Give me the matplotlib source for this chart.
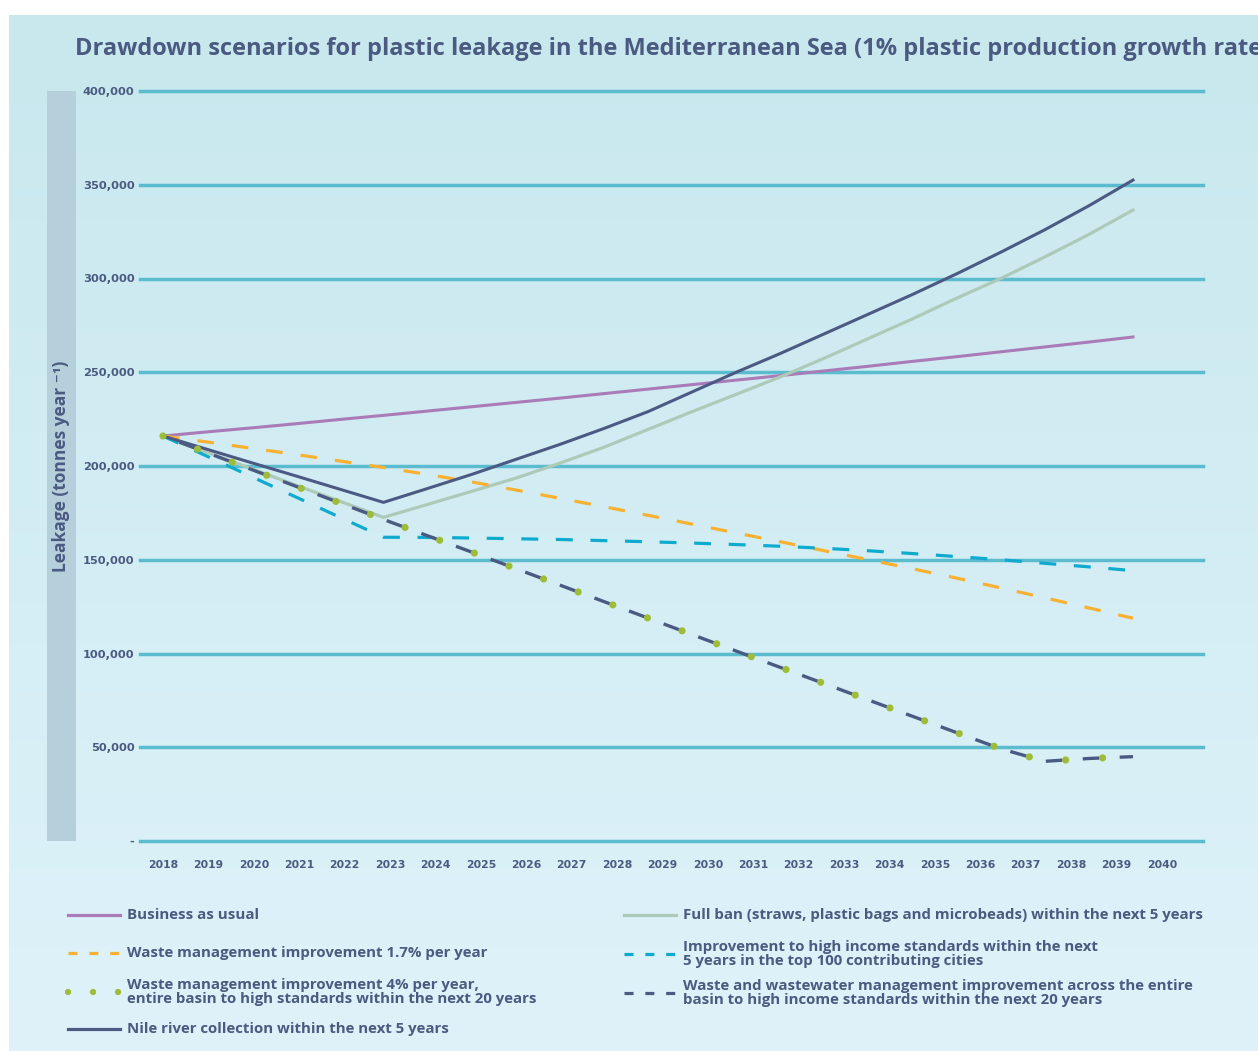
import matplotlib.pyplot as plt
import matplotlib.colors as mcolors
import numpy as np
from matplotlib.lines import Line2D
from matplotlib.patches import Rectangle

plt.rcParams['lines.scale_dashes'] = False

# data (thousand tonnes per year)
years = list(range(2018, 2041))
business = [216.0, 218.2, 220.3, 222.5, 224.8, 227.0, 229.3, 231.6, 233.9, 236.2, 238.6, 241.0,
            243.4, 245.8, 248.2, 250.7, 253.2, 255.8, 258.3, 260.9, 263.5, 266.1, 268.8]
full_ban = [216.0, 207.3, 198.6, 189.9, 181.3, 172.6, 179.5, 186.5, 193.5, 201.5, 210.0, 219.5,
            229.0, 238.2, 247.5, 257.5, 268.0, 278.5, 289.5, 300.0, 311.5, 323.5, 336.5]
nile = [216.0, 208.9, 201.8, 194.8, 187.7, 180.6, 188.0, 195.5, 203.5, 211.5, 220.0, 229.0,
        239.5, 250.0, 260.0, 270.5, 281.0, 291.5, 302.5, 314.0, 326.0, 338.8, 352.5]
wm_17 = [216.0, 212.8, 209.5, 206.2, 202.7, 199.2, 195.5, 191.5, 187.2, 182.8, 178.3, 173.7,
         169.0, 164.3, 159.6, 154.8, 150.0, 145.2, 140.2, 135.0, 129.7, 124.3, 118.8]
high_income = [216.0, 205.2, 194.4, 183.6, 172.8, 162.0, 161.9, 161.6, 161.2, 160.8, 160.2, 159.6,
               158.9, 158.1, 157.2, 156.1, 154.8, 153.3, 151.7, 150.0, 148.1, 146.2, 144.2]
wm_4 = [216.0, 207.1, 198.2, 189.3, 180.4, 171.5, 162.8, 154.1, 145.3, 136.5, 127.7, 118.9,
        110.1, 101.3, 92.6, 83.9, 75.2, 66.5, 57.8, 49.2, 42.5, 44.0, 45.0]
wastewater = [216.0, 207.1, 198.2, 189.3, 180.4, 171.5, 162.8, 154.1, 145.3, 136.5, 127.7, 118.9,
              110.1, 101.3, 92.6, 83.9, 75.2, 66.5, 57.8, 49.2, 42.5, 44.0, 45.0]
yticks = [0, 50000, 100000, 150000, 200000, 250000, 300000, 350000, 400000]

title = 'Drawdown scenarios for plastic leakage in the Mediterranean Sea (1% plastic production growth rate)'
ylabel = 'Leakage (tonnes year \u207b\u00b9)'

text_c = '#4a5a80'
grid_c = '#5bbccf'
c_bau = '#a97bb7'
c_ban = '#adcab9'
c_nile = '#4b5a82'
c_orange = '#f8b133'
c_cyan = '#0fabcf'
c_green = '#9dbd3a'
fam = ['Open Sans', 'DejaVu Sans']

W, H = 1258, 1051
fig = plt.figure(figsize=(W / 100, H / 100), dpi=100, facecolor='white')

# background panel with soft gradient
bg = fig.add_axes([9 / W, 0, 1 - 9 / W, 1 - 15 / H])
top = np.array(mcolors.to_rgb('#c8e8ee'))
bot = np.array(mcolors.to_rgb('#dff2fa'))
t = np.linspace(0, 1, 256)[:, None, None]
bg.imshow(top + (bot - top) * t, aspect='auto', extent=[0, 1, 0, 1])
bg.axis('off')

# grey band behind the y label
fig.add_artist(Rectangle((47 / W, 1 - 841 / H), 29 / W, 750 / H, transform=fig.transFigure,
                         facecolor='#b5cfdb', edgecolor='none'))

ax = fig.add_axes([140 / W, 1 - 841 / H, (1203 - 140) / W, 750 / H])
ax.set_facecolor('none')
x = np.arange(len(years))

for v in yticks:
    ax.axhline(v, color=grid_c, lw=2.5, clip_on=False, zorder=1)

k = 1000
ax.plot(x, np.array(business) * k, color=c_bau, lw=2.2, zorder=3)
ax.plot(x, np.array(full_ban) * k, color=c_ban, lw=2.3, zorder=3)
ax.plot(x, np.array(nile) * k, color=c_nile, lw=2.2, zorder=4)
ax.plot(x, np.array(wm_17) * k, color=c_orange, lw=2.3, ls=(0, (12, 13)), zorder=3)
ax.plot(x, np.array(high_income) * k, color=c_cyan, lw=2.3, ls=(0, (12.2, 12.7)), zorder=3)
ax.plot(x, np.array(wastewater) * k, color=c_nile, lw=2.4, ls=(14, (12, 14.6)), zorder=4)
ax.plot(x, np.array(wm_4) * k, color=c_green, lw=5.2, ls=(0, (0.01, 26.6)),
        dash_capstyle='round', zorder=5)

ax.set_xlim(-23 / 44.09, 22 + 70 / 44.09)
ax.set_ylim(0, 400000)
step = 45.4 / 44.09
ax.set_xticks(x * step)
ax.set_xticklabels([str(y) for y in years])
ax.set_yticks(yticks)
ax.set_yticklabels(['-' if v == 0 else f'{v:,}' for v in yticks])
ax.tick_params(length=0, labelcolor=text_c)
ax.tick_params(axis='x', pad=14)
ax.tick_params(axis='y', pad=4)
for lab in ax.get_xticklabels():
    lab.set_fontweight('bold')
    lab.set_fontsize(7.8)
for lab in ax.get_yticklabels():
    lab.set_fontweight('bold')
    lab.set_fontsize(8.2)
for s in ax.spines.values():
    s.set_visible(False)

fig.text(75 / W, 1 - 49 / H, title, fontsize=17, fontweight='bold', color=text_c,
         family=fam, ha='left', va='center')
fig.text(61 / W, 1 - 466 / H, ylabel, fontsize=12.5, fontweight='bold', color=text_c,
         family=fam, rotation=90, ha='center', va='center')

# legend
legend_items = [
    (68, 915, dict(color=c_bau, lw=2.3), 'Business as usual'),
    (68, 953, dict(color=c_orange, lw=2.3, ls=(0, (6.5, 8.5))), 'Waste management improvement 1.7% per year'),
    (68, 992, dict(color=c_green, lw=4.6, ls=(0, (0.01, 18)), dash_capstyle='round'),
     'Waste management improvement 4% per year,\nentire basin to high standards within the next 20 years'),
    (68, 1029, dict(color=c_nile, lw=2.3), 'Nile river collection within the next 5 years'),
    (624, 915, dict(color=c_ban, lw=2.3), 'Full ban (straws, plastic bags and microbeads) within the next 5 years'),
    (624, 954, dict(color=c_cyan, lw=2.3, ls=(0, (6.5, 8.5))),
     'Improvement to high income standards within the next\n5 years in the top 100 contributing cities'),
    (624, 993, dict(color=c_nile, lw=2.3, ls=(0, (6.5, 8.5))),
     'Waste and wastewater management improvement across the entire\nbasin to high income standards within the next 20 years'),
]
for x0, y0, style, label in legend_items:
    fy = 1 - y0 / H
    fig.add_artist(Line2D([x0 / W, (x0 + 52) / W], [fy, fy], transform=fig.transFigure, **style))
    fig.text((x0 + 59) / W, fy, label, fontsize=10.8, fontweight='bold', color=text_c,
             family=fam, ha='left', va='center', linespacing=1.0)

fig.savefig('out.png', dpi=100, facecolor=fig.get_facecolor())
